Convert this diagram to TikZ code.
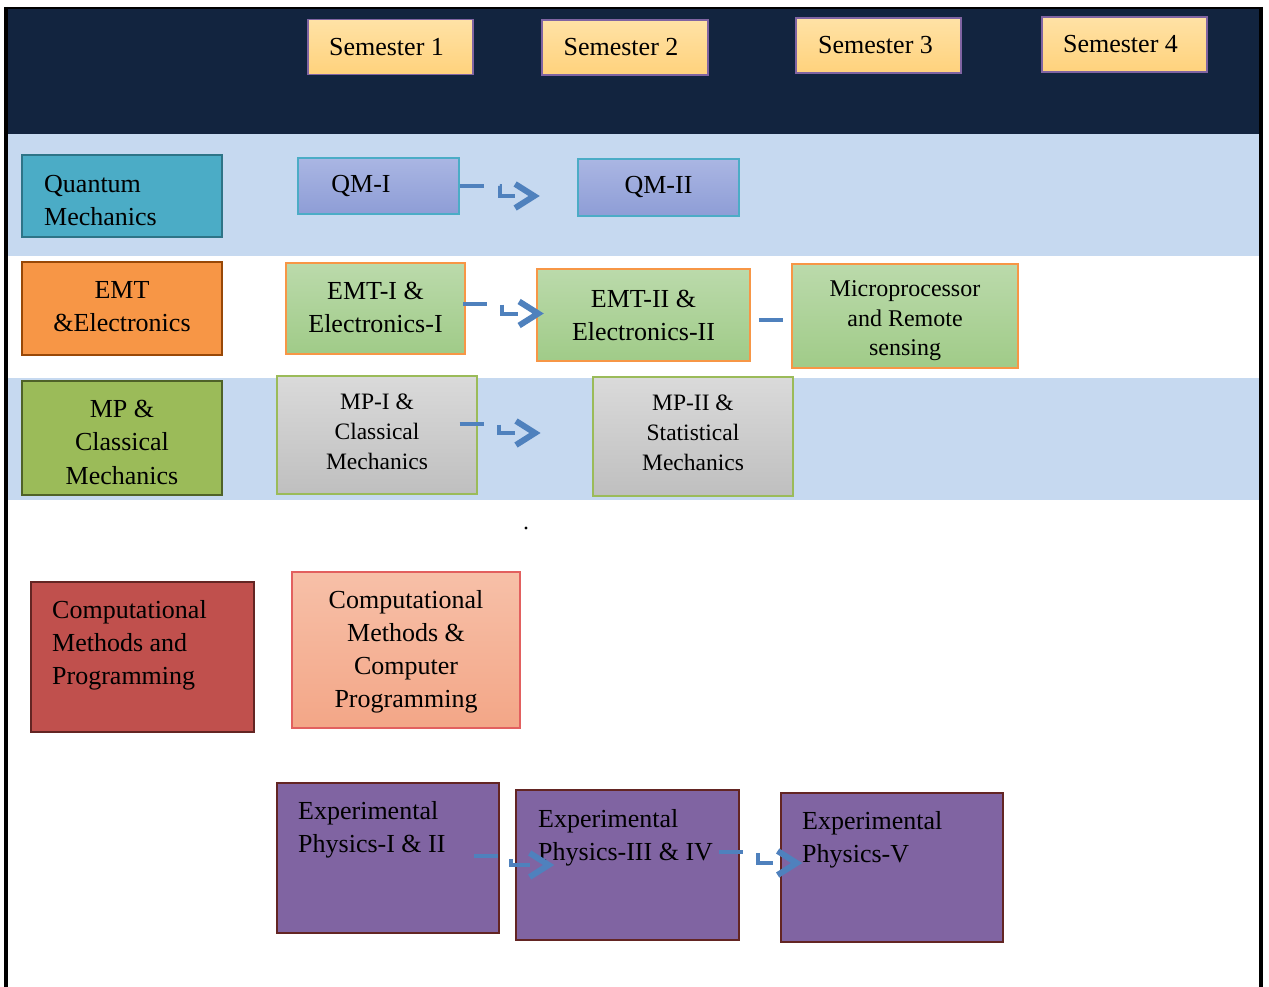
\documentclass[tikz,border=0pt]{standalone}
\usepackage{fontspec}
\setmainfont{Liberation Serif}
\usetikzlibrary{arrows.meta,calc}
\definecolor{navy}{HTML}{12243F}
\definecolor{band}{HTML}{C6D9F0}
\definecolor{semT}{HTML}{FFE2A6}
\definecolor{semM}{HTML}{FFD27C}
\definecolor{semB}{HTML}{8064A2}
\definecolor{qmF}{HTML}{4BACC6}
\definecolor{qmB}{HTML}{2E7487}
\definecolor{emtF}{HTML}{F79646}
\definecolor{emtB}{HTML}{984807}
\definecolor{mpF}{HTML}{9BBB59}
\definecolor{mpB}{HTML}{4F6228}
\definecolor{cmF}{HTML}{C0504D}
\definecolor{cmB}{HTML}{632523}
\definecolor{lavT}{HTML}{AAB6E3}
\definecolor{lavM}{HTML}{8E9DD6}
\definecolor{grnT}{HTML}{BBDAAB}
\definecolor{grnM}{HTML}{A0CB88}
\definecolor{gryT}{HTML}{DADADA}
\definecolor{gryM}{HTML}{BFBFBF}
\definecolor{salT}{HTML}{F7C0A8}
\definecolor{salM}{HTML}{F3A687}
\definecolor{salB}{HTML}{E2605F}
\definecolor{epF}{HTML}{8064A2}
\definecolor{cblue}{HTML}{4F81BD}
\newcommand\fbig{\fontsize{26}{33}\selectfont}
\newcommand\fmid{\fontsize{23.5}{30}\selectfont}
\newcommand\fsml{\fontsize{24}{29.5}\selectfont}
\begin{document}
\begin{tikzpicture}[x=1pt,y=-1pt,
  box/.style={draw, inner sep=0pt, align=center, font=\fbig},
  sem/.style={box, draw=semB, line width=1.5pt, top color=semT, bottom color=semM, minimum width=165pt, minimum height=55pt},
  cat/.style={box, line width=2.5pt, minimum width=200pt},
  qmbox/.style={box, draw=qmF, line width=1.5pt, top color=lavT, bottom color=lavM, minimum width=161pt},
  emtbox/.style={box, draw=emtF, line width=1.5pt, top color=grnT, bottom color=grnM},
  mpbox/.style={box, draw=mpF, line width=1.2pt, top color=gryT, bottom color=gryM, minimum width=200pt},
  epbox/.style={draw=cmB, fill=epF, line width=2.5pt, minimum width=222pt, minimum height=150pt, inner sep=0pt},
  txt/.style={inner sep=0pt, align=left, font=\fbig},
  ctxt/.style={inner sep=0pt, align=center},
  conn/.style={draw=cblue, line width=4pt, dash pattern=on 24pt off 16pt on 25pt off 400pt,
    -{Straight Barb[length=19pt,width=24pt,line width=6pt]}}
]
\useasboundingbox (0,0) rectangle (1269,987);
\fill[white] (0,0) rectangle (1269,987);
% background bands
\fill[navy] (7,9) rectangle (1259,134);
\fill[band] (8,134) rectangle (1259,256);
\fill[band] (8,378) rectangle (1259,500);
% frame
\draw[line width=2.5pt] (4,8) -- (1262,8);
\draw[line width=4pt] (6,7) -- (6,987);
\draw[line width=4pt] (1261,7) -- (1261,987);

% semesters
\node[sem] (s1) at (390.5,47) {\mbox{Semester 1\kern8pt}};
\node[sem, minimum width=166pt] (s2) at (625,47.5) {\mbox{Semester 2\kern8pt}};
\node[sem] (s3) at (878.5,45.5) {\mbox{Semester 3\kern6pt}};
\node[sem] (s4) at (1124.5,44.5) {\mbox{Semester 4\kern8pt}};

% category boxes
\node[cat, fill=qmF, draw=qmB, minimum height=82pt] (qmL) at (122,196) {};
\node[txt, anchor=west] (qmLt) at (44,201) {Quantum\\Mechanics};
\node[cat, fill=emtF, draw=emtB, minimum height=93pt] (emtL) at (122,308.5) {};
\node[ctxt, font=\fbig] (emtLt) at (122,306.5) {EMT\\\&Electronics};
\node[cat, fill=mpF, draw=mpB, minimum height=114pt] (mpL) at (122,438) {};
\node[ctxt, font=\fontsize{26}{33.5}\selectfont] (mpLt) at (122,442) {MP \&\\Classical\\Mechanics};
\node[cat, fill=cmF, draw=cmB, minimum width=223pt, minimum height=150pt] (cmL) at (142.5,657) {};
\node[txt, anchor=north west] (cmLt) at (52,600) {Computational\\Methods and\\Programming};

% course boxes
\node[emtbox, minimum width=213pt, minimum height=92pt] (emt2) at (643.5,315) {EMT-II \&\\Electronics-II};
% EMT-II -> Microprocessor connector (passes under the box)
\draw[conn] ($(emt2.east)+(8,5)$) -- ++(34,0) -- ++(0,10) -- ++(40,0);
\node[emtbox, minimum width=226pt, minimum height=104pt] (micro) at (905,316) {};
\node[ctxt, font=\fsml] (microt) at (905,321) {Microprocessor\\and Remote\\sensing};

\node[qmbox, minimum height=56pt] (qm1) at (378.5,186) {\mbox{QM-I\kern35pt}};
\node[qmbox, minimum height=57pt] (qm2) at (658.5,187.5) {QM-II};
\node[emtbox, minimum width=179pt, minimum height=91pt] (emt1) at (375.5,308.5) {};
\node[ctxt, font=\fbig] (emt1t) at (375.5,307) {EMT-I \&\\Electronics-I};
\node[mpbox, minimum height=118pt] (mp1) at (377,435) {};
\node[ctxt, font=\fmid] (mp1t) at (377,431.5) {MP-I \&\\Classical\\Mechanics};
\node[mpbox, minimum height=119pt] (mp2) at (693,436.5) {};
\node[ctxt, font=\fmid] (mp2t) at (693,433) {MP-II \&\\Statistical\\Mechanics};
\node[box, draw=salB, line width=1.2pt, top color=salT, bottom color=salM, minimum width=228pt, minimum height=156pt] (cmp) at (406,650) {};
\node[ctxt, font=\fbig] (cmpt) at (406,652) {Computational\\Methods \&\\Computer\\Programming};

% experimental boxes
\node[epbox] (ep1) at (388,858) {};
\node[txt, anchor=north west] (ep1t) at (298,801) {Experimental\\Physics-I \& II};
\node[epbox, minimum width=223pt] (ep2) at (627.5,865) {};
\node[txt, anchor=north west] (ep2t) at (538,809) {Experimental\\Physics-III \& IV};
\node[epbox, minimum height=149pt] (ep3) at (892,867.5) {};
\node[txt, anchor=north west] (ep3t) at (802,811) {Experimental\\Physics-V};

% connectors
\draw[conn] (qm1.east) -- ++(40,0) -- ++(0,10) -- ++(40,0);
\draw[conn] ($(emt1.east)+(-3,-5)$) -- ++(39,0) -- ++(0,10) -- ++(42,0);
\draw[conn] ($(mp1.east)+(-18,-11.5)$) -- ++(39,0) -- ++(0,9.5) -- ++(42,0);
\draw[conn] ($(ep1.east)+(-26,-2)$) -- ++(37,0) -- ++(0,9) -- ++(43,0);
\draw[conn] ($(ep2.east)+(-21,-13)$) -- ++(39,0) -- ++(0,11) -- ++(44,0);

% stray dot
\fill (526,528) circle (1.7pt);
\end{tikzpicture}
\end{document}
